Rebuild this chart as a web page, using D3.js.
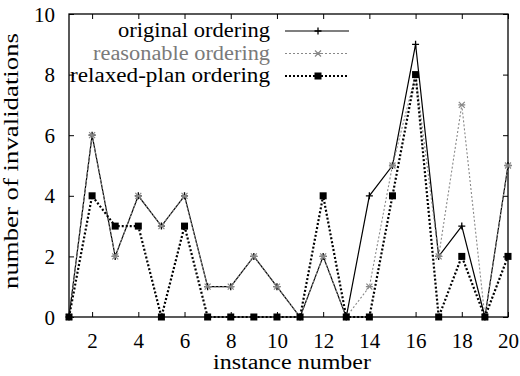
<!DOCTYPE html>
<html>
<head>
<meta charset="utf-8">
<script src="https://cdn.jsdelivr.net/npm/d3@7"></script>
</head>
<body style="margin:0">
<svg class="chart" width="520" height="376"></svg>
<script>
var instances = [1,2,3,4,5,6,7,8,9,10,11,12,13,14,15,16,17,18,19,20];
var original   = [0,6,2,4,3,4,1,1,2,1,0,2,0,4,5,9,2,3,0,5];
var reasonable = [0,6,2,4,3,4,1,1,2,1,0,2,0,1,5,8,2,7,0,5];
var relaxed    = [0,4,3,3,0,3,0,0,0,0,0,4,0,0,4,8,0,2,0,2];
var xTicks = [2,4,6,8,10,12,14,16,18,20];
var yTicks = [0,2,4,6,8,10];
var seriesNames = ["original ordering", "reasonable ordering", "relaxed-plan ordering"];

var font = 'Liberation Serif';
var margin = {top: 14, right: 12, bottom: 59, left: 69};
var width = 520 - margin.left - margin.right;
var height = 376 - margin.top - margin.bottom;

var x = d3.scaleLinear().domain([1, 20]).range([0, width]);
var y = d3.scaleLinear().domain([0, 10]).range([height, 0]);

var chart = d3.select('.chart');
var main = chart.append('g')
    .attr('transform', 'translate(' + margin.left + ',' + margin.top + ')');

// frame
main.append('rect')
    .attr('width', width).attr('height', height)
    .attr('fill', 'none').attr('stroke', '#000').attr('stroke-width', 1.3);

// axes, ticks pointing inward
var gx = main.append('g').attr('transform', 'translate(0,' + height + ')')
    .call(d3.axisBottom(x).tickValues(xTicks).tickSize(-5).tickPadding(16).tickFormat(d3.format('d')));
var gy = main.append('g')
    .call(d3.axisLeft(y).tickValues(yTicks).tickSize(-5).tickPadding(14));
main.append('g')
    .call(d3.axisTop(x).tickValues(xTicks).tickSize(-5).tickFormat(''));
main.append('g').attr('transform', 'translate(' + width + ',0)')
    .call(d3.axisRight(y).tickValues(yTicks).tickSize(-5).tickFormat(''));
main.selectAll('.domain').remove();
main.selectAll('g').attr('font-family', font).attr('font-size', 21);
main.selectAll('.tick line').attr('stroke', '#000');
main.selectAll('.tick text').attr('fill', '#000');
gy.selectAll('.tick text').attr('dy', '0.34em');

// titles (the original type is set wide, so stretch to the measured length)
chart.append('text')
    .attr('transform', 'translate(18,161) rotate(-90)')
    .attr('text-anchor', 'middle')
    .attr('font-family', font).attr('font-size', 20)
    .attr('textLength', 256).attr('lengthAdjust', 'spacingAndGlyphs')
    .text('number of invalidations');
chart.append('text')
    .attr('x', 292)
    .attr('y', 369)
    .attr('text-anchor', 'middle')
    .attr('font-family', font).attr('font-size', 20)
    .attr('textLength', 158).attr('lengthAdjust', 'spacingAndGlyphs')
    .text('instance number');

var line = d3.line()
    .x(function(d, i) { return x(instances[i]); })
    .y(function(d) { return y(d); });

var series = [
    {name: seriesNames[0], values: original, color: '#000', dash: null, sw: 1.2, mark: 'plus', tcolor: '#000', tlen: 152},
    {name: seriesNames[1], values: reasonable, color: '#888', dash: '2,2', sw: 1.1, mark: 'star', tcolor: '#7a7a7a', tlen: 177},
    {name: seriesNames[2], values: relaxed, color: '#000', dash: '2,2', sw: 2.2, mark: 'square', tcolor: '#000', tlen: 200}
];

function drawMark(g, kind, cx, cy, color) {
    if (kind === 'square') {
        g.append('rect').attr('x', cx - 3.5).attr('y', cy - 3.5)
            .attr('width', 7).attr('height', 7).attr('fill', color);
    } else if (kind === 'plus') {
        g.append('path').attr('d', 'M' + (cx - 3.5) + ',' + cy + 'h7M' + cx + ',' + (cy - 3.5) + 'v7')
            .attr('stroke', color).attr('stroke-width', 1.3);
    } else {
        g.append('path').attr('d', 'M' + (cx - 3) + ',' + (cy - 3) + 'l6,6M' + (cx - 3) + ',' + (cy + 3) + 'l6,-6M' + (cx - 3.5) + ',' + cy + 'h7')
            .attr('stroke', color).attr('stroke-width', 1.2);
    }
}

var plot = main.append('g');
series.forEach(function(s) {
    plot.append('path')
        .datum(s.values)
        .attr('d', line)
        .attr('fill', 'none')
        .attr('stroke', s.color)
        .attr('stroke-width', s.sw)
        .attr('stroke-dasharray', s.dash);
    s.values.forEach(function(v, i) {
        drawMark(plot, s.mark, x(instances[i]), y(v), s.color);
    });
});

// legend
var legend = chart.append('g');
series.forEach(function(s, i) {
    var ly = 31 + i * 22.5;
    legend.append('text')
        .attr('x', 270).attr('y', ly).attr('dy', '0.32em')
        .attr('text-anchor', 'end')
        .attr('font-family', font).attr('font-size', 20)
        .attr('textLength', s.tlen).attr('lengthAdjust', 'spacingAndGlyphs')
        .attr('fill', s.tcolor)
        .text(s.name);
    legend.append('line')
        .attr('x1', 285).attr('x2', 349).attr('y1', ly).attr('y2', ly)
        .attr('stroke', s.color).attr('stroke-width', s.sw)
        .attr('stroke-dasharray', s.dash);
    drawMark(legend, s.mark, 318, ly, s.color);
});
</script>
</body>
</html>
